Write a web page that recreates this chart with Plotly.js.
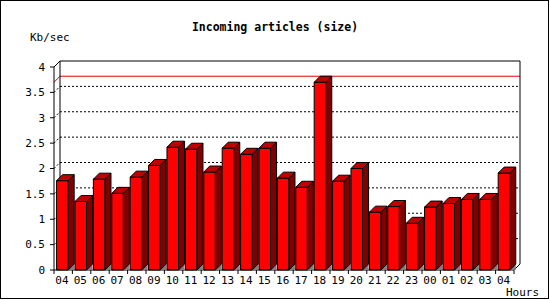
<!DOCTYPE html>
<html>
<head>
<meta charset="utf-8">
<script src="https://cdn.plot.ly/plotly-3.0.1.min.js"></script>
<style>
html,body{margin:0;padding:0;background:#fff;}
#wrap{position:relative;width:550px;height:300px;}
#chart{width:550px;height:300px;}
#frame{position:absolute;left:0;top:0;width:547px;height:297px;border:1px solid #000;pointer-events:none;}
</style>
</head>
<body>
<div id="wrap"><div id="chart"></div><div id="frame"></div></div>
<script>
// ---- data ----
var hours = ["04","05","06","07","08","09","10","11","12","13","14","15","16","17","18","19","20","21","22","23","00","01","02","03","04"];
var kbPerSec = [1.76,1.35,1.79,1.51,1.83,2.06,2.42,2.38,1.93,2.40,2.28,2.40,1.81,1.63,3.70,1.75,2.00,1.14,1.25,0.92,1.24,1.31,1.39,1.39,1.91];
var yTickVals = [0,0.5,1,1.5,2,2.5,3,3.5,4];
var yTickText = ["0","0.5","1","1.5","2","2.5","3","3.5","4"];

// ---- geometry (category units / value units) ----
var PXC = 18.4, PXV = 50.75;
var DX = 6/PXC, DY = 6/PXV;
var B0 = 0.14, B1 = 0.77;
var N = hours.length;
var YMAX = 4;

var idx = hours.map(function(_, i){ return i; });
var centers = idx.map(function(i){ return i + (B0+B1)/2; });
var labelPos = idx.map(function(i){ return i + 0.43; });

var shapes = [];
function line(x0,y0,x1,y1,color,dash,layer){
  shapes.push({type:'line',xref:'x',yref:'y',x0:x0,y0:y0,x1:x1,y1:y1,layer:layer||'above',
    line:{color:color||'#000',width:1,dash:dash||'solid'}});
}
// back-wall gridlines
yTickVals.forEach(function(v){
  if(v>0 && v<YMAX){
    line(DX, v+DY, N+DX, v+DY, '#000', '2px,2px', 'below');
    line(0, v, DX, v+DY, '#000', '2px,2px', 'below');
  }
});
// max line
var vmax = Math.max.apply(null, kbPerSec);
line(DX, vmax+DY, N+DX, vmax+DY, '#e00000', 'solid', 'below');
line(0, vmax, DX, vmax+DY, '#e00000', 'solid', 'below');
// walls
line(DX, YMAX+DY, N+DX, YMAX+DY, '#000', 'solid', 'below');
line(DX, DY, DX, YMAX+DY, '#000', 'solid', 'below');
line(N+DX, DY, N+DX, YMAX+DY, '#000', 'solid', 'below');
line(0, YMAX, DX, YMAX+DY, '#000', 'solid', 'below');
line(N, 0, N+DX, DY, '#000', 'solid', 'above');
// front axes
line(0, 0, 0, YMAX, '#000', 'solid', 'above');
line(0, 0, N, 0, '#000', 'solid', 'above');
yTickVals.forEach(function(v){ line(-4/PXC, v, 0, v, '#000', 'solid', 'above'); });
for(var k=0;k<=N;k++){ line(k, 0, k, -4/PXV, '#000', 'solid', 'above'); }

// 3D faces built from data
var sidePath = '', topPath = '', shadowPath = '';
kbPerSec.forEach(function(v, i){
  var x0 = i + B0, x1 = i + B1;
  sidePath += 'M'+x1+','+0+' L'+(x1+DX)+','+DY+' L'+(x1+DX)+','+(v+DY)+' L'+x1+','+v+' Z ';
  topPath += 'M'+x0+','+v+' L'+(x0+DX)+','+(v+DY)+' L'+(x1+DX)+','+(v+DY)+' L'+x1+','+v+' Z ';
  shadowPath += 'M'+x1+','+0+' L'+(x1+DX)+','+0+' L'+(x1+DX)+','+DY+' Z ';
});
shapes.push({type:'path',xref:'x',yref:'y',path:shadowPath,fillcolor:'#808080',line:{width:0},layer:'above'});
shapes.push({type:'path',xref:'x',yref:'y',path:sidePath,fillcolor:'#800000',line:{color:'#000',width:1},layer:'above'});
shapes.push({type:'path',xref:'x',yref:'y',path:topPath,fillcolor:'#c00000',line:{color:'#000',width:1},layer:'above'});

var font = 'DejaVu Sans Mono, Liberation Mono, monospace';

var trace = {
  type:'bar', x:centers, y:kbPerSec, width:0.63,
  marker:{color:'#ff0000', line:{color:'#000', width:1}},
  hoverinfo:'none', showlegend:false
};

var L = 48, R = 524, T = 56, Bt = 276;
var layout = {
  width:550, height:300,
  margin:{l:L, r:550-R, t:T, b:300-Bt, pad:0},
  paper_bgcolor:'#fff', plot_bgcolor:'rgba(0,0,0,0)',
  title:{text:'<b>Incoming articles (size)</b>', font:{family:font, size:11.5, color:'#000'},
         x:0.5, xref:'container', xanchor:'center', y:1-27/300, yref:'container', yanchor:'middle'},
  xaxis:{range:[(L-54)/PXC,(R-54)/PXC], tickvals:labelPos, ticktext:hours, ticks:'',
         showgrid:false, zeroline:false, showline:false, fixedrange:true,
         tickfont:{family:font, size:11, color:'#000'}, ticklabelstandoff:-4},
  yaxis:{range:[(270-Bt)/PXV,(270-T)/PXV], tickvals:yTickVals, ticktext:yTickText, ticks:'',
         showgrid:false, zeroline:false, showline:false, fixedrange:true,
         tickfont:{family:font, size:11, color:'#000'}, ticklabelstandoff:2},
  shapes:shapes,
  annotations:[
    {text:'Kb/sec', xref:'paper', yref:'paper', x:(28-L)/(R-L), y:(Bt-37.5)/(Bt-T), xanchor:'left', yanchor:'middle',
     showarrow:false, font:{family:font, size:11, color:'#000'}},
    {text:'Hours', xref:'paper', yref:'paper', x:(504-L)/(R-L), y:(Bt-292)/(Bt-T), xanchor:'left', yanchor:'middle',
     showarrow:false, font:{family:font, size:11, color:'#000'}}
  ],
  bargap:0
};

Plotly.newPlot('chart', [trace], layout, {displayModeBar:false, staticPlot:true});
</script>
</body>
</html>
